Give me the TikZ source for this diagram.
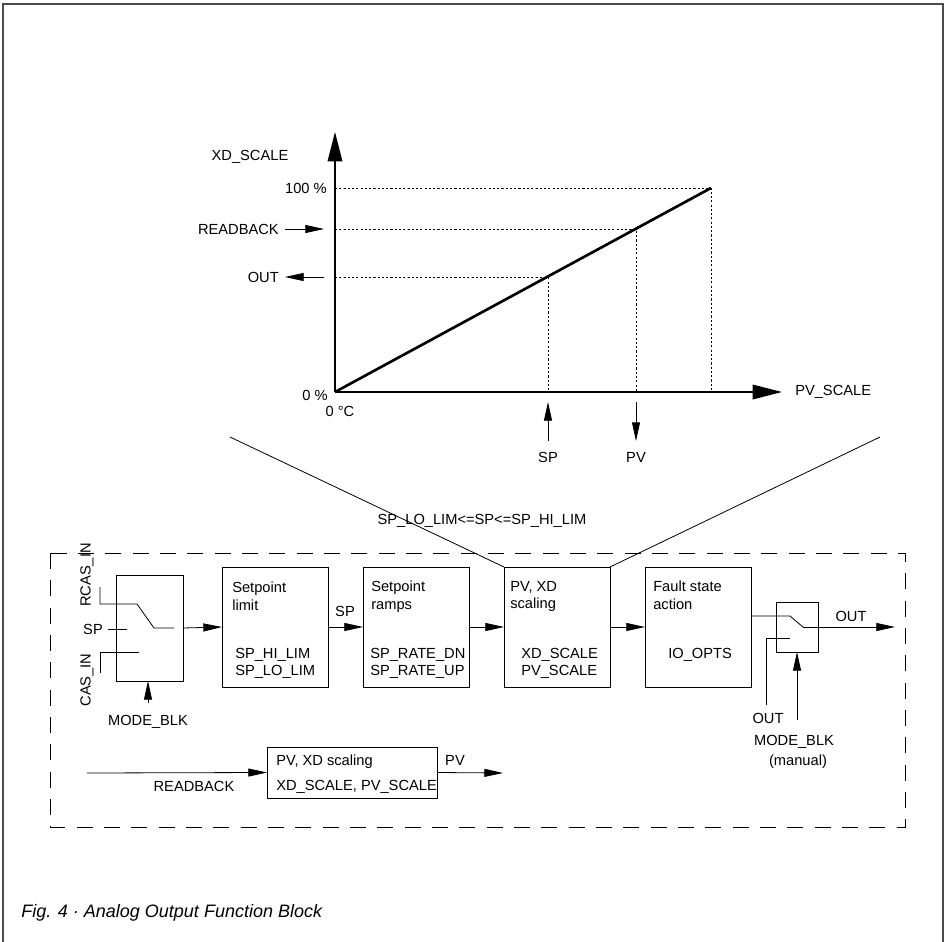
\documentclass[tikz,border=0pt]{standalone}
\usepackage{fontspec}
\setmainfont{Liberation Sans}
\usetikzlibrary{arrows.meta,positioning,calc}
\newcommand{\pxu}{0.75pt}

\tikzset{
  blk/.style={draw,line width=0.6pt,inner sep=0pt,outer sep=0pt,anchor=north west},
  fb/.style={blk,minimum width=106*\pxu,minimum height=120*\pxu},
  lbl/.style={inner sep=0pt,font=\fontsize{11}{13}\selectfont},
  blktxt/.style={lbl,anchor=north west,align=left},
  flow/.style={line width=0.6pt,-{Triangle[length=14pt,width=6pt]}},
  axis/.style={line width=1pt,-{Triangle[length=22pt,width=11pt]}},
  guide/.style={line width=0.6pt,dash pattern=on 1.6pt off 1.6pt},
}

\begin{document}
\begin{tikzpicture}[x=\pxu,y=-\pxu,line join=miter]
  \useasboundingbox (0,0) rectangle (947,942);
  % frame
  \draw[line width=0.8pt,draw=black!70] (3,942) -- (3,4) -- (943,4) -- (943,942);

  % characteristic
  \coordinate (O) at (335,392);
  \coordinate (E) at (711,188);
  \draw[guide] (335,188) -- (711,188) -- (711,392);
  \draw[guide] (335,229) -- (636,229) -- (636,392);
  \draw[guide] (335,277) -- (548,277) -- (548,392);
  \draw[axis] (O) -- (335,132);
  \draw[axis] (O) -- (782,392);
  \draw[line width=2pt] (O) -- (E);
  \node[lbl] (xdl) at (250,157) {XD\_SCALE};
  \node[lbl,anchor=west] (pvs) at (795,392) {PV\_SCALE};
  \node[lbl,anchor=east] (p100) at (327,188) {100 \%};
  \node[lbl,anchor=east] (rbl) at (279,229) {READBACK};
  \node[lbl,anchor=east] (outl) at (279,277) {OUT};
  \node[lbl,anchor=east] (z1) at (328,395) {0 \%};
  \node[lbl] (z2) at (340,411) {0 °C};
  \coordinate (rbtip) at (324,229);
  \coordinate (outtail) at (324,277);
  \draw[flow,shorten <=4.5pt] (rbl) -- (rbtip);
  \draw[flow,shorten >=4.5pt] (outtail) -- (outl);
  \node[lbl] (spl) at (548,457) {SP};
  \node[lbl] (pvl) at (636,457) {PV};
  \coordinate (sptip) at (548,402);
  \coordinate (pvtail) at (636,402);
  \draw[flow,shorten <=8pt] (spl) -- (sptip);
  \draw[flow,shorten >=8pt] (pvtail) -- (pvl);
  \node[lbl] (cond) at (482,521) {SP\_LO\_LIM<=SP<=SP\_HI\_LIM};

  % function block
  \draw[line width=0.6pt,dash pattern=on 12pt off 8.5pt] (50,553) rectangle (905,827);
  \node[blk,minimum width=67*\pxu,minimum height=106*\pxu] (sw1) at (116,575) {};
  \node[fb] (lim) at (222,567) {};
  \node[fb] (ramp) at (363,567) {};
  \node[fb] (scal) at (504,567) {};
  \node[fb] (fault) at (645,567) {};
  \node[blk,minimum width=42*\pxu,minimum height=50*\pxu] (sw2) at (776,602) {};
  \node[blk,minimum width=170*\pxu,minimum height=51*\pxu] (rbk) at (267,747) {};

  \node[blktxt] (limA) at (232,582) {Setpoint\\limit};
  \node[blktxt] (limB) at (235,648) {SP\_HI\_LIM\\SP\_LO\_LIM};
  \node[blktxt] (rampA) at (371,581) {Setpoint\\ramps};
  \node[blktxt] (rampB) at (370,648) {SP\_RATE\_DN\\SP\_RATE\_UP};
  \node[blktxt] (scalA) at (510,581) {PV, XD\\scaling};
  \node[blktxt] (scalB) at (521,648) {XD\_SCALE\\PV\_SCALE};
  \node[blktxt] (faultA) at (653,581) {Fault state\\action};
  \node[blktxt] (faultB) at (668,648) {IO\_OPTS};
  \node[blktxt] (rbkA) at (276,755) {PV, XD scaling};
  \node[blktxt] (rbkB) at (276,780) {XD\_SCALE, PV\_SCALE};

  % zoom lines
  \coordinate (gl) at (230,437);
  \coordinate (gr) at (880,437);
  \draw[line width=0.6pt] (gl) -- (scal.north west);
  \draw[line width=0.6pt] (gr) -- (scal.north east);

  % mode switch
  \node[lbl,rotate=90] (rcas) at (87,575) {RCAS\_IN};
  \node[lbl,rotate=90] (casin) at (87,680) {CAS\_IN};
  \node[lbl] (spin) at (93,629) {SP};
  \draw[line width=0.6pt] (100,587) -- (100,604) -- (137,604) -- (154,628) -- (174,628);
  \draw[line width=0.6pt] ($(spin.east)+(5,0)$) -- (127,629);
  \draw[line width=0.6pt] (100,673) -- (100,652) -- (139,652);
  \node[lbl] (mode1) at (148,722) {MODE\_BLK};
  \draw[flow,shorten <=9pt] (mode1) -- (mode1 |- sw1.south);

  \draw[flow] (sw1.east) -- (lim.west);
  \draw[flow] (lim.east) -- (ramp.west);
  \node[lbl] (spm) at (345,611) {SP};
  \draw[flow] (ramp.east) -- (scal.west);
  \draw[flow] (scal.east) -- (fault.west);

  % output switch
  \coordinate (swc) at (790,616);
  \coordinate (swp) at (803,627);
  \coordinate (outtip) at (895,627);
  \coordinate (swq) at (790,638);
  \coordinate (fbk) at (766,705);
  \coordinate (m2in) at (797,720);
  \draw[line width=0.6pt] (fault.east |- swc) -- (swc) -- (swp);
  \draw[flow] (swp) -- (outtip);
  \draw[line width=0.6pt] (fbk) -- (fbk |- swq) -- (swq);
  \draw[flow] (m2in) -- (sw2.south);
  \node[lbl] (outr) at (851,616) {OUT};
  \node[lbl] (out2) at (768,718) {OUT};
  \node[lbl] (mode2) at (794,742) {MODE\_BLK};
  \node[lbl] (man) at (798,762) {(manual)};

  % readback path
  \coordinate (rbin) at (87,773);
  \coordinate (pvout) at (503,773);
  \draw[flow] (rbin) -- (rbk.west);
  \draw[flow] (rbk.east) -- (pvout);
  \node[lbl] (rbk2) at (194,786) {READBACK};
  \node[lbl] (pvo) at (455,760) {PV};

  \node[lbl,font=\fontsize{13.5}{16}\selectfont\itshape,anchor=base west] (cap) at (21,917) {Fig. 4 · Analog Output Function Block};
\end{tikzpicture}
\end{document}
